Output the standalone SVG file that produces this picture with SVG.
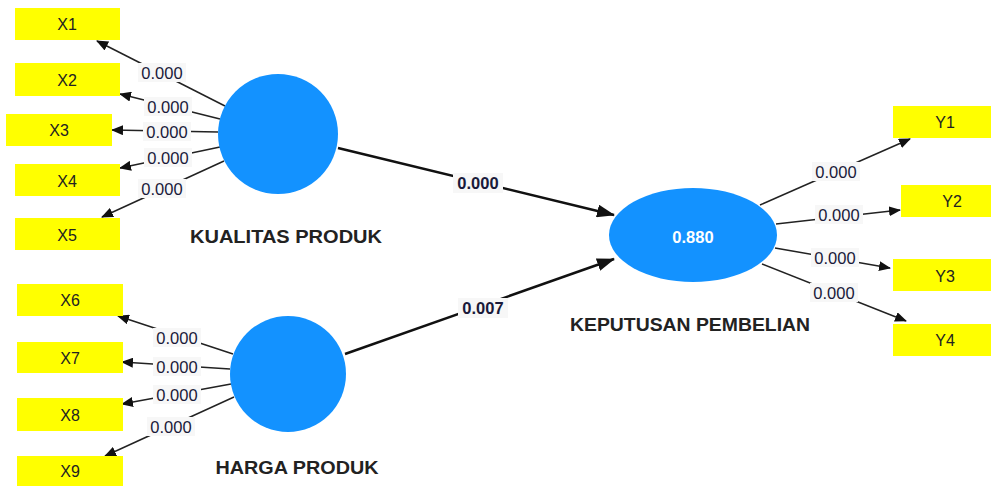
<svg xmlns="http://www.w3.org/2000/svg" width="991" height="486" viewBox="0 0 991 486">
<style>
.ind{fill:#ffff00}
.it{font-family:"Liberation Sans",Arial,sans-serif;font-size:16px;fill:#222;text-anchor:middle;dominant-baseline:central}
.lv{fill:#1392ff}
.lt{font-family:"Liberation Sans",Arial,sans-serif;font-size:18px;font-weight:bold;fill:#222;text-anchor:middle}
.e{stroke:#222;stroke-width:1.5;fill:none;marker-end:url(#ah)}
.eb{stroke:#111;stroke-width:2.5;fill:none;marker-end:url(#ahb)}
.lb{fill:#f7f7f7}
.el{font-family:"Liberation Sans",Arial,sans-serif;font-size:16.5px;fill:#1a1a3a;text-anchor:middle;dominant-baseline:central}
.elb{font-family:"Liberation Sans",Arial,sans-serif;font-size:16.5px;font-weight:bold;fill:#1a1a3a;text-anchor:middle;dominant-baseline:central}
</style>
<defs>
<marker id="ah" markerWidth="12" markerHeight="10" refX="11" refY="5" orient="auto" markerUnits="userSpaceOnUse"><path d="M0,0 L12,5 L0,10 Z" fill="#111"/></marker>
<marker id="ahb" markerWidth="18" markerHeight="13" refX="17" refY="6.5" orient="auto" markerUnits="userSpaceOnUse"><path d="M0,0 L18,6.5 L0,13 Z" fill="#111"/></marker>
</defs>
<rect width="991" height="486" fill="#ffffff"/>
<g id="connectors">
<line class="e" x1="225" y1="106" x2="97" y2="41"/>
<line class="e" x1="220" y1="119" x2="120" y2="94"/>
<line class="e" x1="218" y1="132" x2="112" y2="130"/>
<line class="e" x1="220" y1="147" x2="120" y2="168"/>
<line class="e" x1="224" y1="161" x2="102" y2="217"/>
<line class="e" x1="233" y1="354" x2="118" y2="316"/>
<line class="e" x1="230" y1="369" x2="122" y2="362"/>
<line class="e" x1="231" y1="384" x2="122" y2="404"/>
<line class="e" x1="234" y1="397" x2="105" y2="456"/>
<line class="e" x1="760" y1="205" x2="910" y2="139"/>
<line class="e" x1="776" y1="224" x2="900" y2="210"/>
<line class="e" x1="775" y1="248" x2="890" y2="268"/>
<line class="e" x1="762" y1="264" x2="906" y2="321"/>
<line class="eb" x1="338" y1="148" x2="614" y2="215"/>
<line class="eb" x1="345" y1="354" x2="614" y2="259"/>
<rect class="lb" x="138" y="63" width="48" height="19"/><text class="el" x="162" y="73">0.000</text>
<rect class="lb" x="144" y="97" width="48" height="19"/><text class="el" x="168" y="107">0.000</text>
<rect class="lb" x="143" y="122" width="48" height="19"/><text class="el" x="167" y="132">0.000</text>
<rect class="lb" x="144" y="148" width="48" height="19"/><text class="el" x="168" y="158">0.000</text>
<rect class="lb" x="138" y="179" width="48" height="19"/><text class="el" x="162" y="189">0.000</text>
<rect class="lb" x="153" y="328" width="48" height="19"/><text class="el" x="177" y="338">0.000</text>
<rect class="lb" x="153" y="357" width="48" height="19"/><text class="el" x="177" y="367">0.000</text>
<rect class="lb" x="153" y="385" width="48" height="19"/><text class="el" x="177" y="395">0.000</text>
<rect class="lb" x="147" y="417" width="48" height="19"/><text class="el" x="171" y="427">0.000</text>
<rect class="lb" x="812" y="162" width="48" height="19"/><text class="el" x="836" y="172">0.000</text>
<rect class="lb" x="815" y="205" width="48" height="19"/><text class="el" x="839" y="215">0.000</text>
<rect class="lb" x="811" y="248" width="48" height="19"/><text class="el" x="835" y="258">0.000</text>
<rect class="lb" x="810" y="283" width="48" height="19"/><text class="el" x="834" y="293">0.000</text>
<rect class="lb" x="453" y="173" width="50" height="20"/><text class="elb" x="478" y="183">0.000</text>
<rect class="lb" x="458" y="298" width="50" height="20"/><text class="elb" x="483" y="308">0.007</text>
</g>
<g id="X1"><rect class="ind" x="15" y="8" width="105" height="32"/><text class="it" x="67" y="24">X1</text></g>
<g id="X2"><rect class="ind" x="15" y="63" width="105" height="33"/><text class="it" x="67" y="80">X2</text></g>
<g id="X3"><rect class="ind" x="6" y="114" width="106" height="32"/><text class="it" x="59" y="130">X3</text></g>
<g id="X4"><rect class="ind" x="15" y="164" width="105" height="32"/><text class="it" x="67" y="181">X4</text></g>
<g id="X5"><rect class="ind" x="15" y="218" width="105" height="32"/><text class="it" x="67" y="235">X5</text></g>
<g id="X6"><rect class="ind" x="17" y="284" width="106" height="32"/><text class="it" x="70" y="300">X6</text></g>
<g id="X7"><rect class="ind" x="17" y="342" width="106" height="31"/><text class="it" x="70" y="358">X7</text></g>
<g id="X8"><rect class="ind" x="17" y="398" width="106" height="33"/><text class="it" x="70" y="415">X8</text></g>
<g id="X9"><rect class="ind" x="17" y="456" width="106" height="32"/><text class="it" x="70" y="471">X9</text></g>
<g id="Y1"><rect class="ind" x="893" y="106" width="98" height="32"/><text class="it" x="945" y="122">Y1</text></g>
<g id="Y2"><rect class="ind" x="901" y="185" width="90" height="32"/><text class="it" x="952" y="201">Y2</text></g>
<g id="Y3"><rect class="ind" x="893" y="259" width="98" height="32"/><text class="it" x="945" y="276">Y3</text></g>
<g id="Y4"><rect class="ind" x="893" y="324" width="98" height="32"/><text class="it" x="945" y="340">Y4</text></g>
<g id="KUALITAS_PRODUK"><ellipse class="lv" cx="278" cy="134" rx="60" ry="60"/><text class="lt" x="286" y="243" textLength="192" lengthAdjust="spacingAndGlyphs">KUALITAS PRODUK</text></g>
<g id="HARGA_PRODUK"><ellipse class="lv" cx="288" cy="374" rx="58" ry="58"/><text class="lt" x="297" y="474" textLength="163" lengthAdjust="spacingAndGlyphs">HARGA PRODUK</text></g>
<g id="KEPUTUSAN_PEMBELIAN"><ellipse class="lv" cx="693" cy="235" rx="84" ry="47"/><text x="693" y="237" font-family="Liberation Sans,Arial,sans-serif" font-size="16.5" font-weight="bold" fill="#ffffff" text-anchor="middle" dominant-baseline="central">0.880</text><text class="lt" x="690" y="331" textLength="240" lengthAdjust="spacingAndGlyphs">KEPUTUSAN PEMBELIAN</text></g>
</svg>
